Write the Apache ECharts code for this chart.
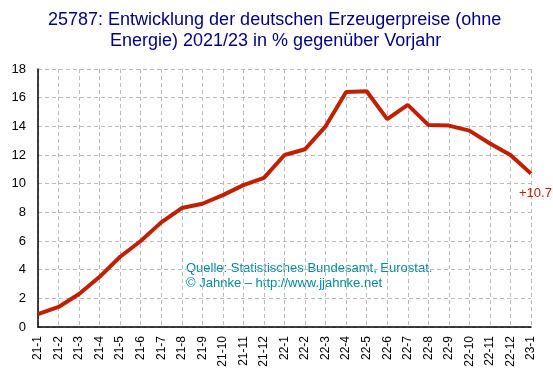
<!DOCTYPE html>
<html>
<head>
<meta charset="utf-8">
<script src="https://cdn.jsdelivr.net/npm/echarts@6/dist/echarts.min.js"></script>
<style>
  html, body { margin: 0; padding: 0; background: #fff; }
  #chart { width: 553px; height: 376px; }
</style>
</head>
<body>
<div id="chart"></div>
<script>
// Monate (Jahr-Monat)
const months = ['21-1', '21-2', '21-3', '21-4', '21-5', '21-6', '21-7', '21-8', '21-9', '21-10', '21-11', '21-12',
  '22-1', '22-2', '22-3', '22-4', '22-5', '22-6', '22-7', '22-8', '22-9', '22-10', '22-11', '22-12', '23-1']
// Erzeugerpreise ohne Energie, % gegenüber Vorjahr
const values = [0.9, 1.4, 2.3, 3.5, 4.9, 6.0, 7.3, 8.3, 8.6, 9.2, 9.9, 10.4,
  12.0, 12.4, 14.0, 16.4, 16.45, 14.5, 15.5, 14.1, 14.05, 13.7, 12.8, 12.0, 10.7]
const yTicks = [0, 2, 4, 6, 8, 10, 12, 14, 16, 18]

const lineColor = '#c02000'
const titleFont = '18px Liberation Sans, Arial, sans-serif'
const chart = echarts.init(document.getElementById('chart'))

const option = {
  animation: false,
  textStyle: { fontFamily: 'Liberation Sans, Arial, sans-serif' },
  grid: { left: 38, right: 22, top: 69, bottom: 49 },
  xAxis: {
    type: 'category',
    data: months,
    boundaryGap: false,
    axisLine: { lineStyle: { color: '#000', width: 1.5 } },
    axisTick: { show: false },
    axisLabel: { rotate: 90, color: '#000', fontSize: 12, margin: 9, interval: 0 },
    splitLine: { show: true, lineStyle: { color: '#bbb', type: [4, 3] } }
  },
  yAxis: {
    type: 'value',
    min: yTicks[0],
    max: yTicks[yTicks.length - 1],
    interval: 2,
    axisLine: { show: true, lineStyle: { color: '#000', width: 1.5 } },
    axisTick: { show: false },
    axisLabel: { color: '#000', fontSize: 13, margin: 12 },
    splitLine: { lineStyle: { color: '#bbb', type: [4, 3] } }
  },
  graphic: [
    // Titel, zweite Zeile eingerückt
    {
      type: 'text',
      left: 48,
      top: 11,
      style: { text: '25787: Entwicklung der deutschen Erzeugerpreise (ohne', fill: '#000080', font: titleFont }
    },
    {
      type: 'text',
      left: 110,
      top: 32,
      style: { text: 'Energie) 2021/23 in % gegenüber Vorjahr', fill: '#000080', font: titleFont }
    },
    {
      type: 'text',
      left: 186,
      top: 261,
      style: {
        text: 'Quelle: Statistisches Bundesamt, Eurostat.\n© Jahnke – http://www.jjahnke.net',
        fill: '#008b9b',
        font: '13px Liberation Sans, Arial, sans-serif',
        lineHeight: 15
      }
    }
  ],
  series: [
    {
      type: 'line',
      data: values,
      symbol: 'none',
      lineStyle: { color: lineColor, width: 4 },
      endLabel: {
        show: true,
        formatter: p => '+' + p.value,
        color: lineColor,
        fontSize: 13,
        offset: [-20, 20]
      }
    }
  ]
}

chart.setOption(option)
</script>
</body>
</html>
